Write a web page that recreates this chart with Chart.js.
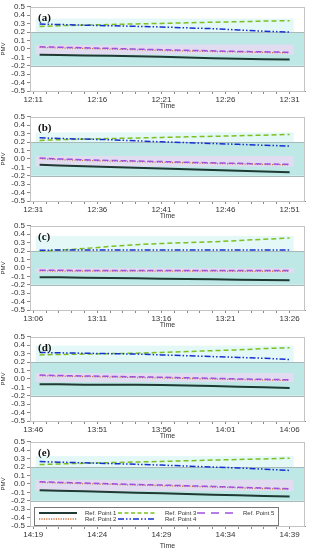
<!DOCTYPE html>
<html><head><meta charset="utf-8">
<script src="https://cdn.jsdelivr.net/npm/chart.js@4.4.0/dist/chart.umd.min.js"></script>
<style>
html,body{margin:0;padding:0;background:#fff;width:309px;height:550px;overflow:hidden}
canvas{position:absolute;left:0}
</style></head><body>
<canvas id="pa" width="309" height="110" style="top:0px"></canvas>
<canvas id="pb" width="309" height="110" style="top:110px"></canvas>
<canvas id="pc" width="309" height="110" style="top:219px"></canvas>
<canvas id="pd" width="309" height="110" style="top:330px"></canvas>
<canvas id="pe" width="309" height="115" style="top:435px"></canvas>
<script>
// ---- data ----
const minutes = [0.5, 2, 4, 6, 8, 10, 12, 14, 16, 18, 20];
const seriesLabels = ['Ref. Point 1', 'Ref. Point 2', 'Ref. Point 3', 'Ref. Point 4', 'Ref. Point 5'];

const ticksA = ['12:11', '12:16', '12:21', '12:26', '12:31'];
const ticksB = ['12:31', '12:36', '12:41', '12:46', '12:51'];
const ticksC = ['13:06', '13:11', '13:16', '13:21', '13:26'];
const ticksD = ['13:46', '13:51', '13:56', '14:01', '14:06'];
const ticksE = ['14:19', '14:24', '14:29', '14:34', '14:39'];

const a1 = [-0.07, -0.072, -0.077, -0.082, -0.087, -0.094, -0.102, -0.11, -0.117, -0.123, -0.127];
const a2 = [0.018, 0.012, 0.005, -0.002, -0.01, -0.018, -0.025, -0.031, -0.037, -0.042, -0.047];
const a3 = [0.265, 0.275, 0.283, 0.29, 0.297, 0.303, 0.31, 0.317, 0.323, 0.33, 0.335];
const a4 = [0.295, 0.29, 0.282, 0.275, 0.268, 0.26, 0.25, 0.24, 0.225, 0.21, 0.2];
const a5 = [0.025, 0.02, 0.013, 0.006, -0.002, -0.01, -0.017, -0.023, -0.03, -0.035, -0.04];

const b1 = [-0.07, -0.078, -0.087, -0.096, -0.105, -0.114, -0.124, -0.133, -0.142, -0.151, -0.16];
const b2 = [0.003, -0.008, -0.018, -0.026, -0.033, -0.04, -0.047, -0.054, -0.06, -0.066, -0.071];
const b3 = [0.22, 0.228, 0.235, 0.242, 0.248, 0.255, 0.262, 0.268, 0.275, 0.282, 0.29];
const b4 = [0.25, 0.243, 0.235, 0.228, 0.215, 0.203, 0.193, 0.183, 0.173, 0.162, 0.153];
const b5 = [0.01, 0.0, -0.01, -0.018, -0.025, -0.032, -0.04, -0.047, -0.053, -0.06, -0.065];

const c1 = [-0.11, -0.112, -0.116, -0.12, -0.124, -0.128, -0.132, -0.136, -0.14, -0.145, -0.148];
const c2 = [-0.036, -0.037, -0.038, -0.038, -0.038, -0.039, -0.039, -0.039, -0.04, -0.04, -0.04];
const c3 = [0.2, 0.21, 0.23, 0.255, 0.275, 0.29, 0.3, 0.31, 0.325, 0.34, 0.355];
const c4 = [0.21, 0.212, 0.213, 0.213, 0.214, 0.214, 0.213, 0.213, 0.212, 0.212, 0.212];
const c5 = [-0.028, -0.029, -0.03, -0.03, -0.03, -0.031, -0.031, -0.031, -0.032, -0.032, -0.032];

const d1 = [-0.063, -0.065, -0.068, -0.07, -0.07, -0.072, -0.078, -0.085, -0.092, -0.1, -0.108];
const d2 = [0.038, 0.033, 0.028, 0.022, 0.017, 0.012, 0.005, -0.001, -0.008, -0.013, -0.018];
const d3 = [0.285, 0.29, 0.295, 0.3, 0.305, 0.315, 0.325, 0.335, 0.345, 0.36, 0.37];
const d4 = [0.315, 0.31, 0.305, 0.3, 0.295, 0.285, 0.275, 0.265, 0.255, 0.245, 0.23];
const d5 = [0.045, 0.04, 0.035, 0.03, 0.025, 0.02, 0.013, 0.007, 0.0, -0.005, -0.01];

const e1 = [-0.075, -0.08, -0.088, -0.096, -0.104, -0.112, -0.12, -0.128, -0.136, -0.143, -0.15];
const e2 = [0.018, 0.011, 0.003, -0.005, -0.013, -0.021, -0.029, -0.037, -0.046, -0.056, -0.064];
const e3 = [0.23, 0.237, 0.245, 0.253, 0.26, 0.267, 0.275, 0.283, 0.29, 0.297, 0.305];
const e4 = [0.265, 0.258, 0.25, 0.242, 0.233, 0.223, 0.212, 0.2, 0.19, 0.175, 0.16];
const e5 = [0.025, 0.018, 0.01, 0.002, -0.006, -0.014, -0.022, -0.03, -0.04, -0.05, -0.058];

// ---- styles ----
const styles = [
  {color: '#1e3a32', width: 2, dash: []},
  {color: '#c8703a', width: 1.3, dash: [1, 1.5]},
  {color: '#7dc01f', width: 1.5, dash: [5, 3]},
  {color: '#1530d0', width: 1.5, dash: [6, 2, 1.5, 2, 1.5, 2]},
  {color: '#a050e0', width: 1.5, dash: [6, 3]}
];
const legendDash = [[], [1.2, 1.2], [4, 2.5], [6, 2, 1.5, 2, 1.5, 2], [8, 6]];

const bgPlugin = {
  id: 'bg',
  beforeDatasetsDraw(chart) {
    const {ctx, chartArea: ca, scales: {x, y}} = chart;
    const ds = chart.data.datasets;
    ctx.save();
    ctx.beginPath(); ctx.rect(ca.left, ca.top, ca.right - ca.left, ca.bottom - ca.top); ctx.clip();
    const yT = y.getPixelForValue(0.2), yB = y.getPixelForValue(-0.2);
    ctx.fillStyle = '#bde8e5';
    ctx.fillRect(ca.left, yT, ca.right - ca.left, yB - yT);
    const x0 = x.getPixelForValue(minutes[0]) - 4, x1 = x.getPixelForValue(minutes[minutes.length - 1]) + 4;
    let top = -1; ds[2].data.concat(ds[3].data).forEach(p => { if (p.y > top) top = p.y; });
    const yU = y.getPixelForValue(Math.max(top + 0.025, 0.3));
    ctx.fillStyle = '#e3f8f7';
    ctx.fillRect(x0, yU, x1 - x0, yT - yU);
    let hi = -1, lo = 1; ds[4].data.concat(ds[1].data).forEach(p => { hi = Math.max(hi, p.y); lo = Math.min(lo, p.y); });
    const yH = y.getPixelForValue(hi + 0.025), yL = y.getPixelForValue(lo - 0.02);
    ctx.fillStyle = '#e2dcf0';
    ctx.fillRect(x0, yH, x1 - x0, yL - yH);
    ctx.strokeStyle = '#a9b8b8'; ctx.lineWidth = 1;
    ctx.beginPath();
    ctx.moveTo(ca.left, Math.round(yT) + 0.5); ctx.lineTo(ca.right, Math.round(yT) + 0.5);
    ctx.moveTo(ca.left, Math.round(yB) + 0.5); ctx.lineTo(ca.right, Math.round(yB) + 0.5);
    ctx.stroke();
    ctx.restore();
  },
  afterDatasetsDraw(chart) {
    const {ctx, chartArea: ca} = chart;
    ctx.save();
    ctx.strokeStyle = '#c4c4c4'; ctx.lineWidth = 1;
    ctx.strokeRect(Math.round(ca.left) + 0.5, Math.round(ca.top) + 0.5, Math.round(ca.right - ca.left) - 1, Math.round(ca.bottom - ca.top));
    ctx.fillStyle = '#111';
    ctx.font = 'bold 11px "Liberation Serif", "Times New Roman", serif';
    ctx.textBaseline = 'alphabetic';
    ctx.fillText(chart.options.plugins.bg.letter, ca.left + 8, ca.top + 14);
    if (chart.options.plugins.bg.legend) {
      const bx = ca.left + 4, bw = 244, bh = 18, by = ca.bottom - bh - 1;
      ctx.fillStyle = '#fff';
      ctx.fillRect(bx, by, bw, bh);
      ctx.strokeStyle = '#777';
      ctx.strokeRect(bx + 0.5, by + 0.5, bw, bh);
      const slots = [[0, 0], [0, 1], [1, 0], [1, 1], [2, 0]];
      const sampleX = [[5, 43], [84, 121], [163, 201]];
      const labelX = [51, 131, 209];
      ctx.font = '6px "Liberation Sans", Arial, sans-serif';
      ctx.textBaseline = 'middle';
      chart.data.datasets.forEach((d, i) => {
        const [col, row] = slots[i];
        const ry = by + 6 + row * 6;
        ctx.strokeStyle = d.borderColor;
        ctx.lineWidth = d.borderWidth;
        ctx.setLineDash(legendDash[i]);
        ctx.beginPath();
        ctx.moveTo(bx + sampleX[col][0], ry); ctx.lineTo(bx + sampleX[col][1], ry);
        ctx.stroke();
        ctx.setLineDash([]);
        ctx.fillStyle = '#333';
        ctx.fillText(d.label, bx + labelX[col], ry);
      });
    }
    ctx.restore();
  }
};

function makePanel(id, letter, tickLabels, series, legend) {
  const cv = document.getElementById(id);
  const H = cv.height;
  const datasets = series.map((vals, i) => ({
    label: seriesLabels[i],
    data: vals.map((v, k) => ({x: minutes[k], y: v})),
    borderColor: styles[i].color,
    borderWidth: styles[i].width,
    borderDash: styles[i].dash,
    pointRadius: 0,
    fill: false,
    tension: 0
  }));
  const order = [0, 4, 1, 3, 2];
  datasets.forEach((d, i) => d.order = order.indexOf(i));
  new Chart(cv, {
    type: 'line',
    data: {datasets},
    plugins: [bgPlugin],
    options: {
      responsive: false,
      animation: false,
      layout: {padding: {top: 6, right: 4, left: 0, bottom: 0}},
      plugins: {legend: {display: false}, tooltip: {enabled: false}, bg: {letter, legend}},
      scales: {
        x: {
          type: 'linear', min: -0.25, max: 21.2,
          afterBuildTicks(s) { s.ticks = []; for (let m = 0; m <= 20; m++) s.ticks.push({value: m}); },
          afterFit(s) { s.height = H - 6 - 85; },
          ticks: {
            autoSkip: false, maxRotation: 0, padding: 1,
            font: {size: 8, family: '"Liberation Sans", Arial, sans-serif'}, color: '#333',
            callback: (v) => (v % 5 === 0 ? tickLabels[v / 5] : '')
          },
          grid: {drawOnChartArea: false, tickLength: 3, color: '#888'},
          border: {color: '#888'},
          title: {display: true, text: 'Time', font: {size: 7, family: '"Liberation Sans", Arial, sans-serif'}, color: '#333', padding: {top: 0, bottom: 0}}
        },
        y: {
          min: -0.5, max: 0.5,
          afterBuildTicks(s) { s.ticks = []; for (let k = -5; k <= 5; k++) s.ticks.push({value: k / 10}); },
          afterFit(s) { s.width = 30; },
          ticks: {
            autoSkip: false, padding: 2,
            font: {size: 8, family: '"Liberation Sans", Arial, sans-serif'}, color: '#333',
            callback: (v) => { const t = (Math.round(v * 10) / 10).toFixed(1); return t === '-0.0' ? '0.0' : t; }
          },
          grid: {drawOnChartArea: false, tickLength: 3, color: '#888'},
          border: {color: '#888'},
          title: {display: true, text: 'PMV', font: {size: 6, family: '"Liberation Sans", Arial, sans-serif'}, color: '#333', padding: 0}
        }
      }
    }
  });
}

makePanel('pa', '(a)', ticksA, [a1, a2, a3, a4, a5], false);
makePanel('pb', '(b)', ticksB, [b1, b2, b3, b4, b5], false);
makePanel('pc', '(c)', ticksC, [c1, c2, c3, c4, c5], false);
makePanel('pd', '(d)', ticksD, [d1, d2, d3, d4, d5], false);
makePanel('pe', '(e)', ticksE, [e1, e2, e3, e4, e5], true);
</script>
</body></html>
